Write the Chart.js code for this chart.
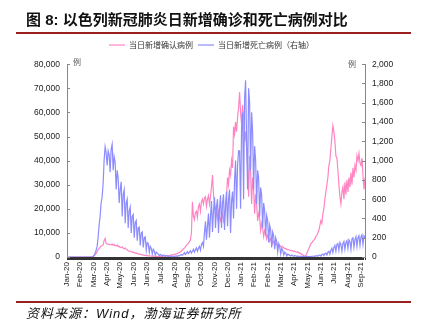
<!DOCTYPE html>
<html><head><meta charset="utf-8">
<script src="https://cdn.jsdelivr.net/npm/chart.js@4.4.0/dist/chart.umd.min.js"></script>
<style>
html,body{margin:0;padding:0;background:#fff;}
#wrap{position:relative;width:423px;height:324px;overflow:hidden;background:#fff;}
#title{position:absolute;left:26px;top:12px;font-weight:bold;font-size:15px;line-height:15px;font-family:"Liberation Sans","Noto Sans CJK SC",sans-serif;color:#111;white-space:nowrap;}
.rule{position:absolute;left:16px;width:395px;height:2px;background:#9a1f1f;}
#src{position:absolute;left:26px;top:307px;font-style:italic;font-size:13px;line-height:13px;letter-spacing:1px;font-family:"Liberation Sans","Noto Sans CJK SC",sans-serif;color:#111;white-space:nowrap;}
canvas{position:absolute;left:0;top:0;}
</style></head>
<body><div id="wrap">
<canvas id="c" width="423" height="324"></canvas>
<div id="title">图 8: 以色列新冠肺炎日新增确诊和死亡病例对比</div>
<div class="rule" style="top:32px"></div>
<div class="rule" style="top:301px"></div>
<div id="src">资料来源：Wind，渤海证券研究所</div>
</div>
<script>
// ---- data ----
const seriesNames = ['当日新增确认病例', '当日新增死亡病例（右轴）'];
const tickLabels = ['Jan-20','Feb-20','Mar-20','Apr-20','May-20','Jun-20','Jun-20','Jul-20','Aug-20','Sep-20','Oct-20','Nov-20','Dec-20','Jan-21','Feb-21','Feb-21','Mar-21','Apr-21','May-21','Jun-21','Jul-21','Aug-21','Sep-21'];
const tickIndex = [0,13,27,40,53,67,80,93,107,120,133,147,160,173,186,200,213,226,240,253,266,280,293];
const confirmed = [
0,0,0,0,0,0,0,0,0,0,0,0,0,0,0,0,0,0,0,0,0,0,0,0,50,100,
200,500,900,1500,2200,3000,3600,4100,4600,4800,5000,6800,7700,
5600,5400,5200,5300,5000,5100,5400,4800,5200,4700,4600,5000,
4300,4500,3900,4000,4200,3600,3500,3700,3200,3000,
2600,2400,2500,2200,2000,2100,1800,1600,1700,1400,
1300,1200,1100,1000,900,800,750,700,600,550,
500,450,420,400,380,350,330,300,280,260,250,240,250,260,280,
300,350,400,450,500,550,600,700,800,900,1000,1100,1200,1300,1500,
1700,1900,2200,2500,2900,3300,3700,4200,4800,5300,5800,6400,
7000,10000,22900,
17000,15500,18500,19000,16500,21000,22000,19000,23000,24000,
22000,24500,25000,21000,24000,25500,22000,25000,
29000,34000,26000,22000,
20000,18000,16000,19000,17000,15000,16500,18000,15000,17000,19000,
25000,33000,30000,36000,34000,40000,37000,
54000,51000,56000,52000,58000,62000,68500,
60000,55000,63000,58000,48000,52000,
45000,38000,25000,42000,35000,22000,33000,28000,18000,26000,22000,15000,
18000,16000,11000,14000,12000,8500,11000,10000,7500,9000,
8000,6500,7500,7000,5500,6500,6000,5000,5500,5000,4200,4800,4500,4000,4300,
3800,3500,3600,3200,3000,3100,2800,2600,2700,2500,2300,2400,2200,2000,2100,1800,1600,1400,
1200,800,500,300,600,
1500,2500,3500,4500,5500,6000,6500,7000,7500,8500,9000,10000,
11000,13000,15000,14000,18000,20000,24000,27000,
30000,33000,38000,40000,45000,50000,54500,52000,
48000,42000,41000,36000,30000,25000,
22000,27000,29000,24000,31000,26000,32000,27000,33000,29000,35000,30000,37000,33000,38000,36000,42000,40000,43000,39000,38000,41000,34000,28000,33000
];
const deaths = [
0,0,0,0,0,0,0,0,0,0,0,0,0,0,0,0,0,0,0,0,0,0,0,0,0,0,
5,15,40,70,110,200,330,420,560,620,760,1005,1143,
1080,950,1100,1060,880,1120,1170,900,1040,980,700,900,
820,560,700,780,420,650,700,350,560,600,
300,480,520,250,420,440,200,360,380,170,
300,310,120,250,260,100,200,210,70,150,
140,50,110,90,30,80,60,20,50,40,
30,15,25,20,10,20,15,8,15,12,5,10,8,5,10,8,5,10,12,8,15,12,20,25,18,
30,45,25,40,55,35,50,65,40,60,
80,50,75,95,60,90,110,70,130,150,
110,250,370,180,320,450,200,420,580,260,
480,620,300,520,600,250,500,640,300,560,
650,280,540,680,320,600,700,250,580,680,
400,800,1000,500,950,1100,
1100,500,1350,1500,600,1650,
1834,1200,700,1750,1600,900,1500,1300,700,1150,1000,550,900,820,420,720,640,300,560,480,220,430,380,150,330,280,100,260,220,80,200,160,50,140,110,30,90,70,20,50,40,10,30,
25,15,10,20,12,8,15,10,5,12,8,5,10,6,4,8,5,3,6,4,3,5,4,6,8,
10,6,12,15,8,18,20,10,25,30,15,35,40,20,50,60,30,70,90,45,
100,120,60,130,140,70,150,130,60,140,160,80,150,170,90,180,160,80,190,200,
100,180,210,110,200,220,120,210,230,130,220,200
];
const leftMax = 80000, leftStep = 10000, rightMax = 2000, rightStep = 200;

// ---- build ----
const xLabels = confirmed.map(() => '');
tickIndex.forEach((ix, k) => { xLabels[ix] = tickLabels[k]; });

const PINK = '#FF85C2', BLUE = '#8C8CFF';
const LAT = '"Liberation Sans", Arial, sans-serif';
const CJK = '"Noto Sans CJK SC", sans-serif';

const axisExtras = {
  id: 'axisExtras',
  afterDraw(chart) {
    const {ctx, chartArea: a, scales} = chart;
    ctx.save();
    ctx.strokeStyle = '#888'; ctx.lineWidth = 1;
    scales.y.ticks.forEach(t => {
      const py = Math.round(scales.y.getPixelForValue(t.value)) + 0.5;
      ctx.beginPath(); ctx.moveTo(a.left, py); ctx.lineTo(a.left + 3, py); ctx.stroke();
    });
    scales.y1.ticks.forEach(t => {
      const py = Math.round(scales.y1.getPixelForValue(t.value)) + 0.5;
      ctx.beginPath(); ctx.moveTo(a.right, py); ctx.lineTo(a.right - 3, py); ctx.stroke();
    });
    ctx.fillStyle = '#555';
    ctx.font = '8px ' + CJK;
    ctx.textBaseline = 'middle';
    ctx.textAlign = 'left';
    ctx.fillText('例', a.left + 6, a.top - 2);
    ctx.textAlign = 'right';
    ctx.fillText('例', a.right - 9, a.top);
    ctx.restore();
  }
};

const chart = new Chart(document.getElementById('c'), {
  type: 'line',
  data: {
    labels: xLabels,
    datasets: [
      {label: seriesNames[0], data: confirmed, yAxisID: 'y', borderColor: PINK, backgroundColor: PINK,
       borderWidth: 1.2, pointRadius: 0, tension: 0, order: 1},
      {label: seriesNames[1], data: deaths, yAxisID: 'y1', borderColor: BLUE, backgroundColor: BLUE,
       borderWidth: 1.2, pointRadius: 0, tension: 0, order: 0}
    ]
  },
  options: {
    responsive: false, animation: false, devicePixelRatio: 1,
    layout: {padding: {top: 36, left: 0, right: 0, bottom: 0}},
    plugins: {
      legend: {display: true, position: 'top', weight: 1000,
        labels: {usePointStyle: true, pointStyle: 'line', pointStyleWidth: 16, padding: 5,
                 color: '#333', font: {size: 8, family: CJK},
                 sort: (a, b) => a.datasetIndex - b.datasetIndex}},
      title: {display: true, text: ' ', weight: 500, font: {size: 1}, padding: {top: 2, bottom: 2}},
      tooltip: {enabled: false}
    },
    scales: {
      x: {
        type: 'category', offset: false,
        grid: {display: true, drawOnChartArea: false, drawTicks: true, tickLength: 3, color: '#333', lineWidth: 1},
        border: {display: true, color: '#333'},
        ticks: {autoSkip: false, minRotation: 90, maxRotation: 90, padding: 2, color: '#222',
                font: {size: 8, family: LAT}, callback: (v, i) => xLabels[i]},
        afterFit: s => { s.height = 67; }
      },
      y: {
        position: 'left', min: 0, max: leftMax,
        ticks: {stepSize: leftStep, padding: 7, color: '#222', font: {size: 8.5, family: LAT},
                callback: v => v.toLocaleString('en-US')},
        grid: {drawOnChartArea: false, drawTicks: false},
        border: {display: true, color: '#888'},
        afterFit: s => { s.width = 67; }
      },
      y1: {
        position: 'right', min: 0, max: rightMax,
        ticks: {stepSize: rightStep, padding: 7, color: '#222', font: {size: 8.5, family: LAT},
                callback: v => v.toLocaleString('en-US')},
        grid: {drawOnChartArea: false, drawTicks: false},
        border: {display: true, color: '#888'},
        afterFit: s => { s.width = 58; }
      }
    }
  },
  plugins: [axisExtras]
});
</script>
</body></html>
